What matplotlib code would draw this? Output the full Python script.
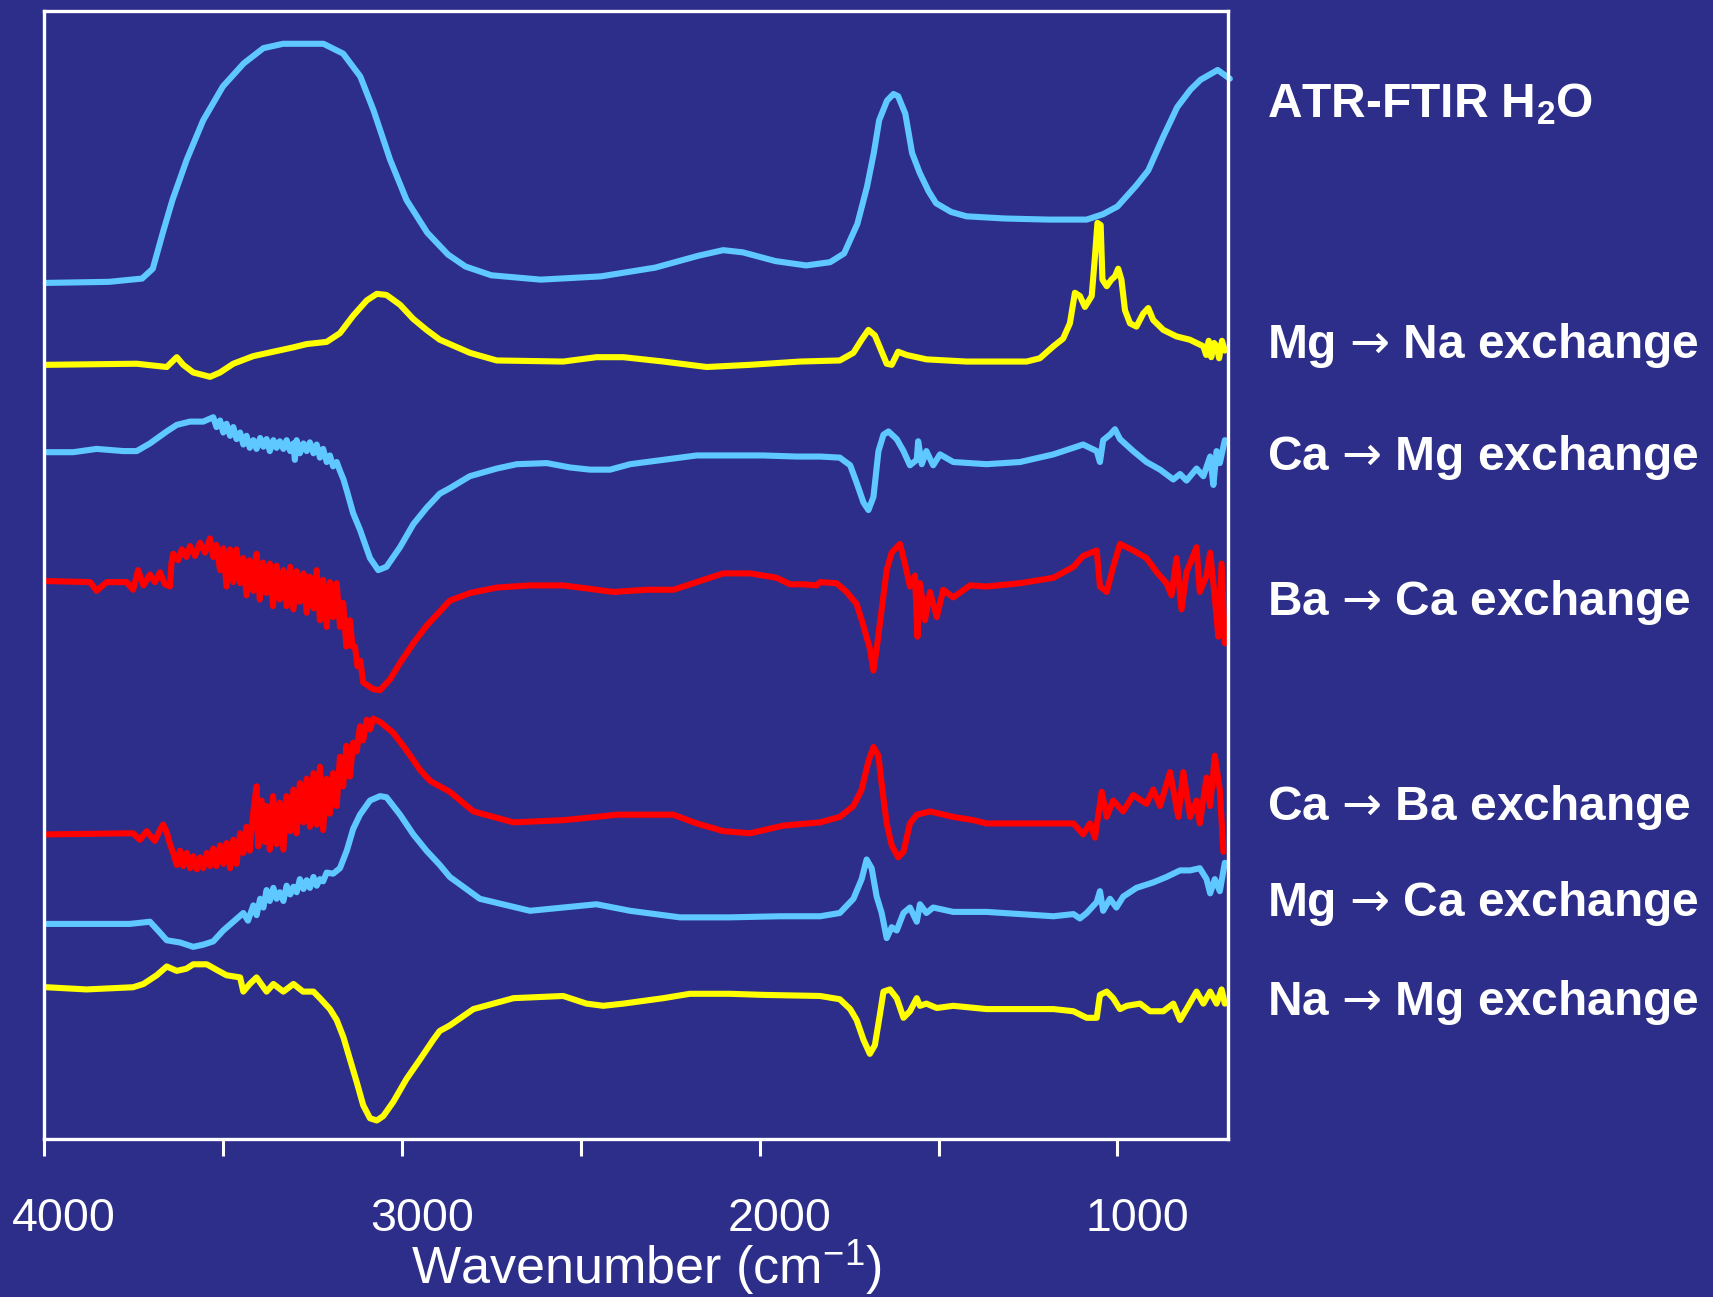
import matplotlib
matplotlib.use('Agg')
import matplotlib.pyplot as plt
from matplotlib.transforms import ScaledTranslation

# wavenumbers (cm-1) and stacked intensities (a.u., each trace carries its own offset)
h2o_wn = [3995, 3818, 3726, 3696, 3668, 3641, 3601, 3555, 3500, 3442, 3387, 3332, 3219, 3164, 3116,
          3079, 3033, 2987, 2929, 2871, 2822, 2750, 2612, 2444, 2292, 2170, 2102, 2047, 1956, 1870,
          1803, 1764, 1727, 1700, 1681, 1666, 1644, 1626, 1613, 1593, 1574, 1553, 1528, 1507, 1465,
          1422, 1315, 1193, 1086, 1040, 1000, 948, 914, 872, 833, 796, 768, 720, 686]
h2o_int = [784, 785, 788, 797, 830, 860, 897, 933, 964, 985, 999, 1003, 1003, 994, 973,
           942, 897, 860, 830, 810, 799, 791, 787, 790, 798, 809, 814, 812, 804, 800,
           803, 811, 838, 872, 903, 933, 951, 957, 955, 939, 903, 885, 868, 857, 849,
           845, 843, 842, 842, 847, 854, 873, 887, 918, 945, 961, 970, 979, 971]

mgna_wn = [3993, 3741, 3685, 3657, 3629, 3611, 3583, 3536, 3508, 3471, 3415, 3359, 3303, 3266, 3210,
           3173, 3136, 3098, 3070, 3043, 3005, 2968, 2931, 2894, 2866, 2810, 2735, 2549, 2456, 2381,
           2269, 2148, 2027, 1887, 1776, 1738, 1715, 1696, 1678, 1659, 1645, 1631, 1613, 1589, 1534,
           1422, 1254, 1217, 1179, 1152, 1133, 1119, 1105, 1091, 1072, 1063, 1056, 1047, 1042, 1030,
           1017, 1007, 998, 989, 979, 965, 947, 928, 914, 900, 872, 835, 798, 760, 752,
           745, 738, 730, 723, 716, 708, 700]
mgna_int = [709, 710, 708, 707, 716, 709, 702, 698, 702, 710, 717, 721, 725, 728, 730,
            738, 754, 768, 774, 773, 764, 751, 741, 732, 728, 720, 713, 712, 716, 716,
            712, 707, 709, 712, 713, 720, 732, 741, 736, 721, 710, 709, 721, 718, 714,
            712, 712, 715, 726, 733, 747, 775, 772, 762, 772, 808, 839, 837, 787, 781,
            787, 790, 797, 787, 759, 747, 744, 756, 761, 750, 741, 735, 732, 726, 718,
            731, 716, 729, 726, 715, 731, 722]

camg_wn = [3993, 3918, 3853, 3778, 3741, 3704, 3657, 3629, 3592, 3555, 3527, 3518, 3508, 3499, 3490,
           3480, 3471, 3462, 3452, 3443, 3434, 3425, 3415, 3406, 3396, 3387, 3378, 3369, 3359, 3350,
           3341, 3331, 3322, 3312, 3303, 3299, 3294, 3285, 3275, 3266, 3257, 3247, 3238, 3229, 3220,
           3210, 3201, 3192, 3182, 3173, 3163, 3154, 3136, 3117, 3089, 3066, 3043, 3005, 2968, 2931,
           2894, 2866, 2810, 2735, 2679, 2595, 2530, 2474, 2418, 2362, 2269, 2176, 2083, 1990, 1897,
           1831, 1776, 1747, 1729, 1710, 1696, 1682, 1668, 1654, 1640, 1617, 1598, 1580, 1561, 1557,
           1547, 1534, 1515, 1496, 1459, 1366, 1272, 1179, 1096, 1058, 1049, 1040, 1021, 1007, 993,
           956, 919, 881, 844, 825, 807, 779, 760, 741, 732, 723, 714, 700]
camg_int = [629, 629, 632, 630, 630, 637, 648, 654, 657, 657, 661, 652, 658, 647, 655,
            644, 652, 641, 647, 636, 644, 633, 640, 632, 642, 634, 641, 630, 640, 633,
            639, 632, 640, 630, 637, 622, 640, 628, 637, 630, 638, 628, 636, 624, 632,
            620, 626, 616, 620, 612, 604, 594, 573, 558, 532, 521, 524, 542, 563, 578,
            591, 596, 607, 614, 618, 619, 615, 613, 613, 618, 622, 626, 626, 626, 625,
            625, 624, 617, 601, 583, 576, 588, 630, 645, 648, 641, 630, 617, 622, 639,
            618, 630, 617, 627, 620, 618, 620, 627, 636, 630, 620, 640, 645, 650, 641,
            630, 620, 613, 604, 609, 603, 614, 607, 625, 599, 630, 619, 640]

baca_wn = [3993, 3871, 3853, 3825, 3769, 3751, 3737, 3722, 3704, 3690, 3676, 3662, 3648, 3644, 3639,
           3625, 3615, 3602, 3592, 3578, 3564, 3550, 3536, 3527, 3518, 3508, 3499, 3490, 3480, 3471,
           3462, 3452, 3443, 3434, 3425, 3415, 3406, 3397, 3388, 3378, 3369, 3360, 3350, 3341, 3331,
           3322, 3312, 3303, 3294, 3285, 3275, 3266, 3257, 3247, 3238, 3229, 3220, 3210, 3201, 3192,
           3182, 3173, 3164, 3155, 3145, 3138, 3131, 3124, 3116, 3108, 3098, 3080, 3061, 3033, 3005,
           2968, 2931, 2894, 2866, 2810, 2735, 2642, 2549, 2456, 2409, 2316, 2241, 2176, 2102, 2027,
           1953, 1915, 1878, 1841, 1831, 1785, 1757, 1729, 1710, 1692, 1682, 1673, 1659, 1645, 1631,
           1608, 1594, 1580, 1566, 1559, 1552, 1538, 1524, 1505, 1487, 1459, 1412, 1366, 1272, 1179,
           1123, 1096, 1058, 1049, 1030, 1012, 993, 956, 919, 890, 863, 849, 835, 821, 807,
           779, 770, 751, 741, 728, 718, 709, 700]
baca_int = [511, 510, 502, 510, 510, 503, 521, 507, 517, 510, 519, 508, 506, 527, 536,
            530, 540, 533, 543, 534, 546, 537, 550, 533, 544, 521, 541, 506, 540, 510,
            540, 509, 532, 498, 530, 502, 536, 494, 528, 500, 527, 488, 525, 494, 521,
            488, 524, 485, 520, 492, 518, 482, 515, 486, 521, 475, 512, 469, 510, 478,
            509, 469, 491, 451, 475, 451, 451, 433, 438, 418, 416, 412, 411, 421, 436,
            454, 470, 483, 493, 500, 505, 507, 507, 503, 501, 503, 503, 510, 518, 518,
            514, 508, 508, 507, 510, 509, 501, 490, 470, 449, 429, 449, 485, 521, 537,
            545, 527, 506, 516, 460, 509, 475, 501, 478, 503, 496, 507, 506, 509, 514,
            524, 534, 539, 506, 501, 524, 545, 539, 532, 519, 509, 498, 532, 485, 519,
            542, 501, 516, 537, 496, 460, 527, 454]

caba_wn = [3993, 3751, 3732, 3713, 3704, 3690, 3676, 3667, 3657, 3648, 3639, 3629, 3620, 3611, 3601,
           3592, 3583, 3573, 3564, 3555, 3545, 3536, 3527, 3518, 3508, 3499, 3490, 3480, 3471, 3462,
           3452, 3443, 3434, 3425, 3415, 3406, 3401, 3392, 3383, 3378, 3369, 3360, 3350, 3341, 3331,
           3322, 3312, 3303, 3294, 3285, 3275, 3266, 3257, 3247, 3238, 3229, 3220, 3210, 3201, 3192,
           3182, 3173, 3164, 3155, 3145, 3136, 3126, 3117, 3108, 3098, 3089, 3080, 3061, 3024, 2987,
           2949, 2921, 2894, 2866, 2800, 2688, 2549, 2456, 2400, 2241, 2176, 2102, 2027, 1934, 1831,
           1776, 1738, 1715, 1696, 1682, 1668, 1659, 1645, 1631, 1613, 1598, 1580, 1561, 1524, 1459,
           1403, 1366, 1272, 1179, 1123, 1096, 1077, 1063, 1044, 1030, 1012, 984, 956, 919, 900,
           881, 853, 830, 816, 797, 779, 770, 751, 741, 728, 714, 704]
caba_int = [279, 280, 274, 282, 278, 273, 283, 288, 281, 270, 262, 251, 264, 250, 262,
            248, 259, 247, 258, 248, 262, 250, 266, 250, 269, 252, 271, 248, 274, 252,
            280, 262, 286, 264, 300, 323, 268, 310, 272, 305, 265, 314, 270, 308, 265,
            314, 282, 320, 280, 326, 290, 330, 286, 335, 288, 341, 283, 330, 298, 335,
            305, 350, 323, 360, 332, 363, 355, 378, 365, 384, 375, 385, 382, 372, 356,
            338, 328, 323, 318, 300, 290, 292, 295, 297, 297, 289, 282, 280, 287, 290,
            295, 305, 320, 346, 359, 351, 325, 289, 269, 258, 263, 289, 297, 300, 295,
            292, 289, 289, 289, 289, 279, 289, 276, 318, 295, 310, 300, 315, 307, 320,
            305, 336, 295, 336, 295, 310, 289, 331, 305, 351, 320, 263]

mgca_wn = [3993, 3760, 3732, 3704, 3676, 3657, 3620, 3583, 3555, 3527, 3499, 3471, 3443, 3430, 3415,
           3406, 3396, 3387, 3378, 3369, 3359, 3350, 3341, 3331, 3322, 3312, 3303, 3294, 3285, 3275,
           3266, 3257, 3247, 3238, 3229, 3220, 3210, 3192, 3173, 3154, 3136, 3117, 3089, 3061, 3043,
           3005, 2968, 2931, 2894, 2866, 2782, 2642, 2456, 2362, 2223, 2083, 1944, 1831, 1776, 1738,
           1715, 1701, 1687, 1673, 1659, 1645, 1631, 1617, 1598, 1580, 1561, 1552, 1534, 1515, 1459,
           1366, 1272, 1179, 1123, 1105, 1086, 1058, 1049, 1040, 1021, 1003, 984, 947, 900, 863,
           825, 797, 770, 751, 741, 728, 714, 700]
mgca_int = [197, 197, 198, 199, 189, 182, 180, 176, 178, 181, 191, 199, 207, 200, 214,
            205, 220, 212, 228, 218, 230, 220, 226, 218, 232, 224, 231, 226, 238, 229,
            237, 230, 240, 232, 238, 236, 244, 243, 248, 264, 284, 297, 310, 314, 313,
            297, 279, 264, 251, 240, 220, 209, 215, 209, 203, 203, 204, 204, 207, 220,
            238, 256, 248, 222, 207, 184, 194, 191, 207, 212, 199, 215, 207, 212, 208,
            208, 206, 204, 206, 202, 207, 217, 227, 209, 220, 212, 222, 230, 235, 240,
            246, 246, 248, 238, 225, 238, 227, 253]

namg_wn = [3993, 3881, 3751, 3722, 3685, 3657, 3629, 3602, 3583, 3545, 3518, 3490, 3452, 3443, 3425,
           3406, 3378, 3359, 3331, 3303, 3276, 3247, 3229, 3201, 3182, 3163, 3145, 3126, 3108, 3089,
           3070, 3052, 3024, 2987, 2949, 2912, 2894, 2866, 2800, 2688, 2549, 2484, 2437, 2381, 2269,
           2195, 2083, 1990, 1831, 1776, 1747, 1729, 1710, 1692, 1678, 1664, 1654, 1636, 1617, 1598,
           1580, 1561, 1552, 1534, 1505, 1459, 1366, 1272, 1179, 1123, 1086, 1058, 1049, 1030, 1012,
           993, 974, 937, 909, 872, 844, 825, 807, 779, 760, 741, 723, 709, 700]
namg_int = [139, 137, 139, 142, 150, 158, 154, 156, 160, 160, 155, 150, 148, 135, 142,
            148, 135, 142, 135, 142, 135, 135, 129, 119, 109, 93, 73, 52, 31, 19,
            17, 21, 34, 55, 73, 91, 99, 104, 119, 129, 131, 124, 122, 124, 129,
            133, 133, 132, 131, 128, 119, 109, 91, 78, 86, 114, 135, 137, 129, 111,
            117, 129, 122, 124, 120, 122, 119, 119, 119, 117, 111, 111, 132, 135, 129,
            119, 122, 124, 117, 117, 124, 109, 119, 135, 124, 135, 124, 137, 124]

trace_labels = ['ATR-FTIR H$_2$O',
                'Mg $\\mathrm{→}$ Na exchange',
                'Ca $\\mathrm{→}$ Mg exchange',
                'Ba $\\mathrm{→}$ Ca exchange',
                'Ca $\\mathrm{→}$ Ba exchange',
                'Mg $\\mathrm{→}$ Ca exchange',
                'Na $\\mathrm{→}$ Mg exchange']
label_y = [0.9098, 0.7240, 0.6376, 0.5258, 0.3678, 0.2938, 0.2174]

bg = '#2d2e89'
blue = '#5ec8ff'
yellow = '#ffff00'
red = '#ff0000'

plt.rcParams['font.family'] = ['Liberation Sans', 'DejaVu Sans']
plt.rcParams['mathtext.fontset'] = 'dejavusans'
plt.rcParams['mathtext.default'] = 'regular'

fig = plt.figure(figsize=(17.13, 12.97), dpi=100, facecolor=bg)
ax = fig.add_axes([0.0257, 0.1218, 0.6912, 0.8697], facecolor=bg)

traces = [(h2o_wn, h2o_int, blue), (mgna_wn, mgna_int, yellow), (camg_wn, camg_int, blue),
          (baca_wn, baca_int, red), (caba_wn, caba_int, red), (mgca_wn, mgca_int, blue),
          (namg_wn, namg_int, yellow)]
for wn, val, c in traces:
    ax.plot(wn, val, color=c, lw=4.4, solid_joinstyle='round', solid_capstyle='round', clip_on=False)

ax.set_xlim(4000, 691)
ax.set_ylim(0, 1033)
ax.set_yticks([])
ax.set_xticks([4000, 3000, 2000, 1000])
ax.set_xticks([3500, 2500, 1500], minor=True)
ax.tick_params(axis='x', which='both', direction='out', length=12, width=2.2, color='white',
               labelcolor='white', labelsize=33.5, pad=30)
for s in ax.spines.values():
    s.set_color('white')
    s.set_linewidth(2.4)

ax.set_xlabel('Wavenumber (cm$^{-1}$)', fontsize=37.5, color='white')
ax.xaxis.set_label_coords(0.5089, -0.1285)
ax.xaxis.label.set_va('baseline')

for lab in ax.get_xticklabels():
    lab.set_transform(lab.get_transform() + ScaledTranslation(0.20, 0, fig.dpi_scale_trans))

for txt, y in zip(trace_labels, label_y):
    fig.text(0.7396, y, txt, fontsize=34.5, fontweight='bold', color='white', va='baseline', ha='left')

fig.savefig('out.png', dpi=100, facecolor=bg)
